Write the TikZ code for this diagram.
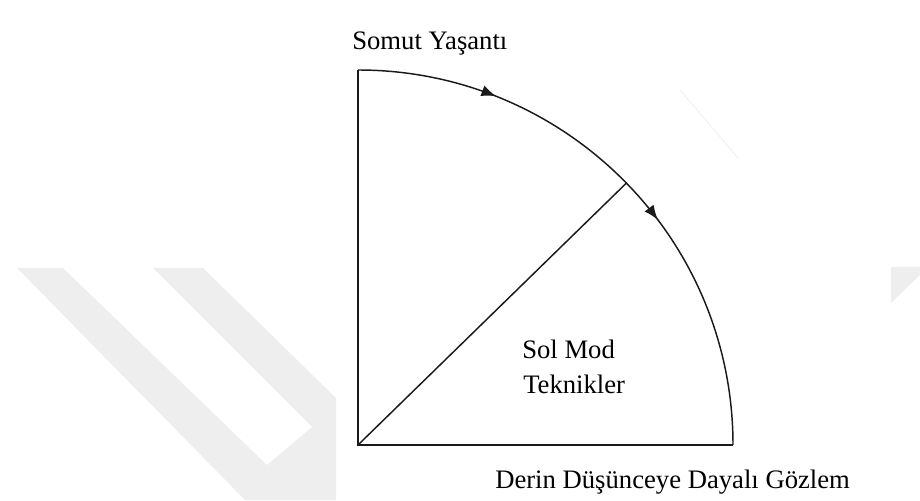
\documentclass[tikz,border=0pt]{standalone}
\usepackage{fontspec}
\setmainfont{Liberation Serif}
\usetikzlibrary{arrows.meta,decorations.markings,calc}
\definecolor{ink}{HTML}{1A1A1A}
\definecolor{wm}{HTML}{EEEEEE}
\tikzset{
  edge/.style={draw=ink, line width=1.1pt},
  lbl/.style={font=\fontsize{20}{24}\selectfont, text=black, inner sep=0pt, anchor=base west},
  tipmark/.style={postaction={decorate, decoration={markings,
     mark=at position 0.24 with {\arrow[ink]{Latex[length=11pt,width=8.5pt]}},
     mark=at position 0.59 with {\arrow[ink]{Latex[length=11pt,width=8.5pt]}}}}}
}
\begin{document}
\begin{tikzpicture}[x=0.75pt,y=0.75pt]
\useasboundingbox (0,0) rectangle (920,500);
% faint watermark
\fill[wm] (17,232) -- (63,232) -- (267,35) -- (312,73) -- (153,232) -- (203,232) -- (336,102) -- (336,0) -- (245,0) -- cycle;
\fill[wm] (891,233) -- (920,233) -- (920,225) -- (891,197) -- cycle;
\draw[black!5, line width=0.8pt] (680,410) -- (738,342);
% geometry
\coordinate (O) at (358,55);
\coordinate (T) at (358,430);
\coordinate (R) at (733,55);
\coordinate (J) at ($(O)+(44.3:375)$);
\draw[edge] (T) -- (O) -- (R);
\draw[edge] (O) -- (J);
\draw[edge, tipmark] (T) arc[start angle=90, end angle=0, radius=281.25pt];
% labels
\node[lbl] (somut) at (352,450) {Somut Yaşantı};
\node[lbl] (sol) at (522,142) {Sol Mod};
\node[lbl] (tek) at (523,107) {Teknikler};
\node[lbl] (derin) at (495,12) {Derin Düşünceye Dayalı Gözlem};
\end{tikzpicture}
\end{document}
